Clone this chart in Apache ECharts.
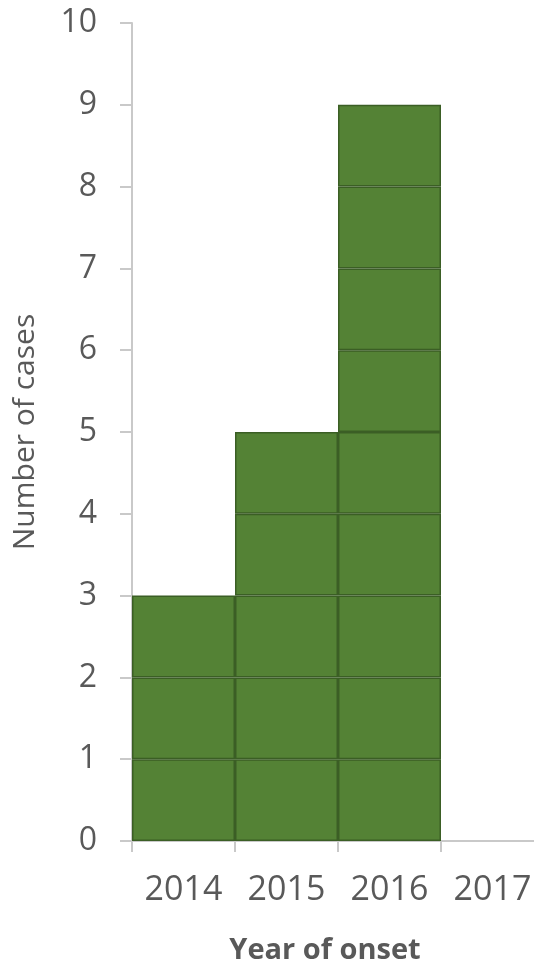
<!DOCTYPE html>
<html>
<head>
<meta charset="utf-8">
<script src="https://cdn.jsdelivr.net/npm/echarts@6/dist/echarts.min.js"></script>
<style>
  html, body { margin: 0; padding: 0; background: #fff; }
  #chart { width: 534px; height: 964px; }
</style>
</head>
<body>
<div id="chart"></div>
<script>
// cases by year of onset
const years = ['2014', '2015', '2016', '2017'];
const cases = [3, 5, 9, 0];
const yTicks = [0, 1, 2, 3, 4, 5, 6, 7, 8, 9, 10];

const textColor = '#595959';
const axisColor = '#c9c9c9';
const fontFamily = '"Open Sans", "Noto Sans", sans-serif';

// one stacked layer per case so every case gets its own box
const maxCases = Math.max(...cases);
const layers = [];
for (let k = 0; k < maxCases; k++) {
    layers.push({
        type: 'bar',
        stack: 'cases',
        barWidth: '100%',
        data: cases.map(c => (c > k ? 1 : '-')),
        itemStyle: {
            color: '#548235',
            borderColor: '#3b5e25',
            borderWidth: 1.5
        },
        silent: true
    });
}

const chart = echarts.init(document.getElementById('chart'));
chart.setOption({
    animation: false,
    grid: { left: 132, top: 23, width: 412, height: 818, outerBoundsMode: 'none' },
    xAxis: {
        type: 'category',
        data: years,
        name: 'Year of onset',
        nameLocation: 'middle',
        nameGap: 95,
        nameTextStyle: {
            color: textColor, fontSize: 29, fontWeight: 'bold', fontFamily: fontFamily,
            padding: [0, 26, 0, 0]
        },
        axisLine: { show: true, lineStyle: { color: axisColor, width: 2 } },
        axisTick: { show: true, length: 11, lineStyle: { color: axisColor, width: 2 } },
        axisLabel: { color: textColor, fontSize: 34, fontFamily: fontFamily, margin: 32, interval: 0 }
    },
    yAxis: {
        type: 'value',
        min: yTicks[0],
        max: yTicks[yTicks.length - 1],
        interval: 1,
        name: 'Number of cases',
        nameLocation: 'middle',
        nameGap: 92,
        nameRotate: 90,
        nameTextStyle: { color: textColor, fontSize: 30, fontFamily: fontFamily },
        axisLine: { show: true, lineStyle: { color: axisColor, width: 2 } },
        axisTick: { show: true, length: 12, lineStyle: { color: axisColor, width: 2 } },
        splitLine: { show: false },
        axisLabel: { color: textColor, fontSize: 32, fontFamily: fontFamily, margin: 35 }
    },
    series: layers
});
</script>
</body>
</html>
